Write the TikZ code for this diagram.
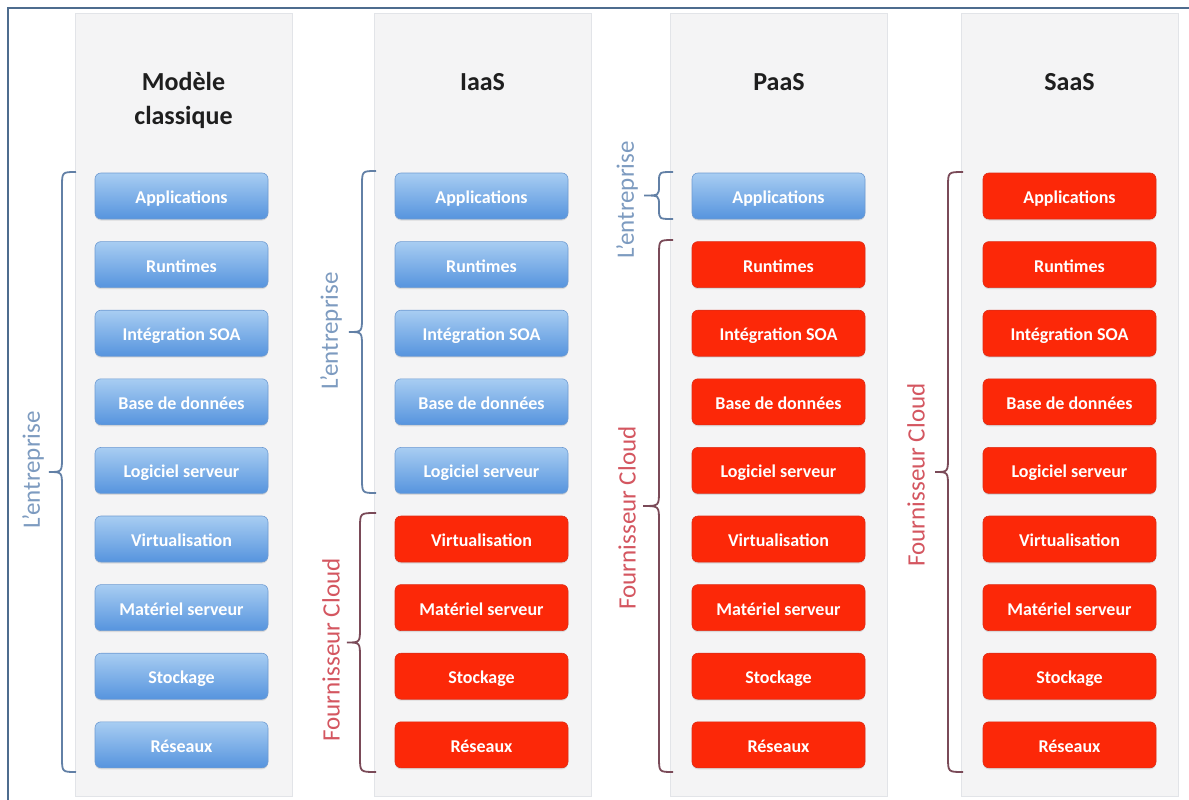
\documentclass[tikz,border=0pt]{standalone}
\usepackage{fontspec}
\setmainfont{Carlito}
\usetikzlibrary{shadows}

\definecolor{frameblue}{RGB}{78,108,142}
\definecolor{panelgray}{RGB}{244,244,245}
\definecolor{paneledge}{RGB}{226,228,232}
\definecolor{bluetop}{RGB}{168,205,242}
\definecolor{bluebot}{RGB}{86,148,222}
\definecolor{blueedge}{RGB}{110,155,210}
\definecolor{redfill}{RGB}{252,40,8}
\definecolor{rededge}{RGB}{222,44,22}
\definecolor{entbrace}{RGB}{98,128,166}
\definecolor{entlabel}{RGB}{125,155,192}
\definecolor{cloudbrace}{RGB}{122,74,88}
\definecolor{cloudlabel}{RGB}{212,86,96}
\definecolor{headtext}{RGB}{30,30,30}

\tikzset{
  panel/.style={fill=panelgray, draw=paneledge, line width=0.8pt,
    minimum width=217pt, minimum height=783pt, inner sep=0pt},
  head/.style={text=headtext, font=\fontsize{26}{33}\selectfont\bfseries,
    align=center, inner sep=0pt},
  layer/.style={rounded corners=6pt, minimum width=173pt, minimum height=46pt,
    inner sep=0pt, text=white, font=\fontsize{18}{20}\selectfont\bfseries,
    text height=15pt, text depth=0pt,
    drop shadow={shadow xshift=0pt, shadow yshift=-1.5pt, opacity=0.22}},
  own/.style={layer, top color=bluetop, bottom color=bluebot,
    draw=blueedge, line width=0.6pt},
  cloud/.style={layer, fill=redfill, draw=rededge, line width=0.6pt},
  entside/.style={text=entlabel, rotate=90, inner sep=0pt,
    font=\fontsize{25}{28}\selectfont},
  cloudside/.style={text=cloudlabel, rotate=90, inner sep=0pt,
    font=\fontsize{25}{28}\selectfont},
  entbr/.style={draw=entbrace, line width=1.8pt},
  cloudbr/.style={draw=cloudbrace, line width=1.8pt},
}

% brace: style, end x, spine x, tip x, top y, bottom y, curl radius
\newcommand{\sidebrace}[7]{%
  \path[#1] (#2,#5) .. controls (#3,#5) .. (#3,#5+#7)
    -- (#3,{(#5+#6)/2-#7}) .. controls (#3,{(#5+#6)/2}) .. (#4,{(#5+#6)/2})
    .. controls (#3,{(#5+#6)/2}) .. (#3,{(#5+#6)/2+#7})
    -- (#3,#6-#7) .. controls (#3,#6) .. (#2,#6);}

\begin{document}
\begin{tikzpicture}[x=1pt, y=-1pt]
\useasboundingbox (0,0) rectangle (1189,800);
\fill[white] (0,0) rectangle (1189,800);

% outer frame (top and left edges)
\draw[frameblue, line width=2pt] (8,800) -- (8,8) -- (1189,8);

% column panels
\node[panel] (p1) at (183.5,404.5) {};
\node[panel] (p2) at (482.5,404.5) {};
\node[panel] (p3) at (779,404.5) {};
\node[panel] (p4) at (1069.5,404.5) {};

% column titles
\node[head, anchor=base] (h1) at (183.5,124) {Modèle\\classique};
\node[head, anchor=base] (h2) at (482.5,90) {IaaS};
\node[head, anchor=base] (h3) at (779,90) {PaaS};
\node[head, anchor=base] (h4) at (1069.5,90) {SaaS};

% stacks of layers: column, x centre, number of layers run by the company
\foreach \c/\x/\n in {1/181.5/9, 2/481.5/5, 3/778.5/1, 4/1069.5/0}{
  \foreach \t [count=\r] in {Applications, Runtimes, Intégration SOA,
      Base de données, Logiciel serveur, Virtualisation, Matériel serveur,
      Stockage, Réseaux}{
    \pgfmathsetmacro{\yy}{196+68.6*(\r-1)}
    \ifnum\r>\n
      \node[cloud] (b\c-\r) at (\x,\yy) {\t};
    \else
      \node[own] (b\c-\r) at (\x,\yy) {\t};
    \fi
  }
}

% braces and their labels
\sidebrace{entbr}{76}{62}{49}{172}{772}{15}
\node[entside] (l1) at (33,470) {L’entreprise};

\sidebrace{entbr}{376}{362}{349}{171}{493}{15}
\node[entside] (l2a) at (331,331) {L’entreprise};
\sidebrace{cloudbr}{376}{360}{347}{513}{772}{15}
\node[cloudside] (l2b) at (331,650) {Fournisseur Cloud};

\sidebrace{entbr}{673}{659}{644}{172}{219}{10}
\node[entside] (l3a) at (627,200) {L’entreprise};
\sidebrace{cloudbr}{673}{659}{643}{240}{772}{15}
\node[cloudside] (l3b) at (627,518) {Fournisseur Cloud};

\sidebrace{cloudbr}{963}{948}{935}{172}{772}{15}
\node[cloudside] (l4) at (916,475) {Fournisseur Cloud};
\end{tikzpicture}
\end{document}
